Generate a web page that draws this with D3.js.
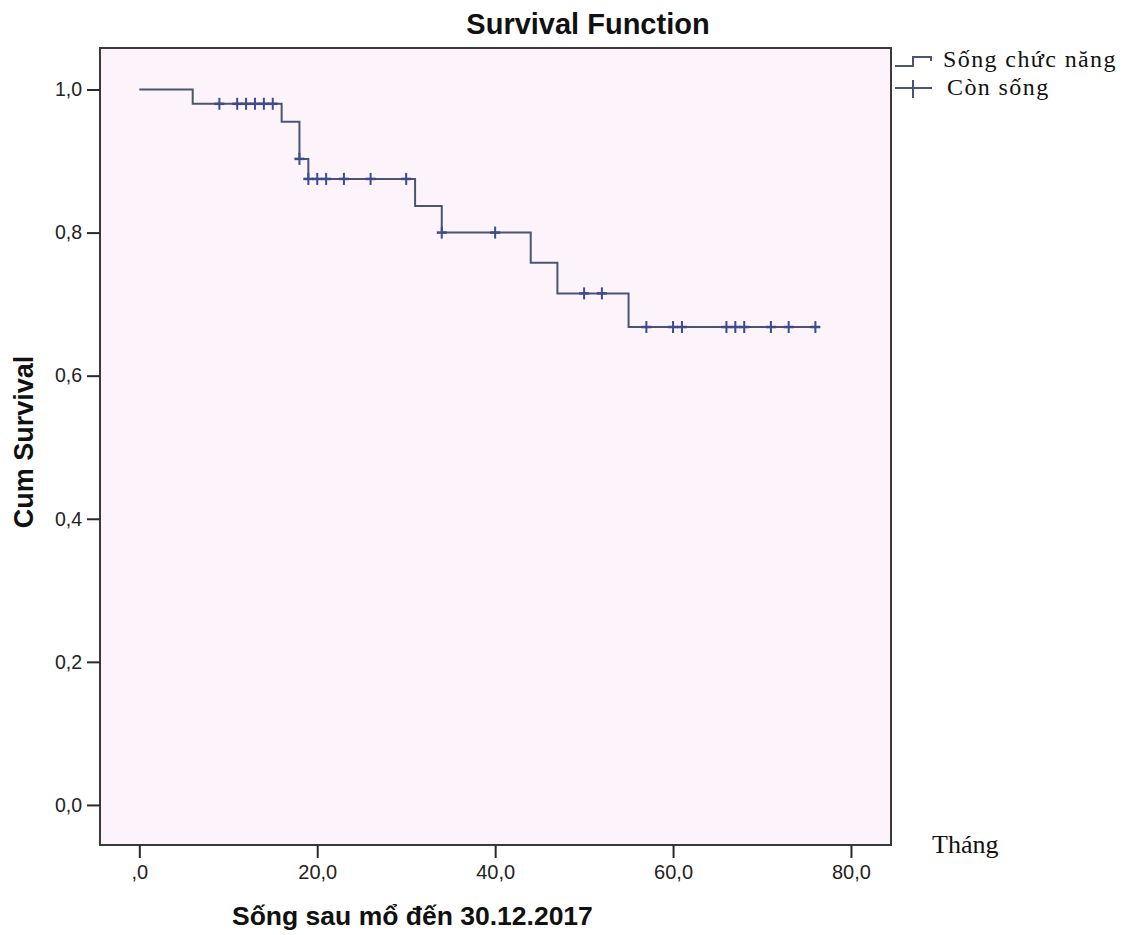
<!DOCTYPE html>
<html>
<head>
<meta charset="utf-8">
<script src="https://cdn.jsdelivr.net/npm/d3@7"></script>
<style>
  html, body { margin: 0; padding: 0; background: #ffffff; }
  svg { display: block; }
</style>
</head>
<body>
<svg id="chart" width="1130" height="935"></svg>
<script>
// Kaplan–Meier estimate: event times (months) and the survival level reached at each
const stepTimes    = [0, 6, 16, 18, 19, 31, 34, 44, 47, 55];
const stepSurvival = [1.0, 0.98, 0.955, 0.903, 0.875, 0.837, 0.80, 0.758, 0.715, 0.668];
// Follow-up end of the curve (last censored patient)
const lastFollowUp = 76;
// Censored observations (still alive), in months
const censorTimes = [9, 11, 12, 13, 14, 15, 18, 19, 20, 21, 23, 26, 30, 34, 40, 50, 52, 57, 60, 61, 66, 67, 68, 71, 73, 76];

// Axis ticks and their labels
const xTickValues = [0, 20, 40, 60, 80];
const xTickLabels = [",0", "20,0", "40,0", "60,0", "80,0"];
const yTickValues = [0, 0.2, 0.4, 0.6, 0.8, 1.0];
const yTickLabels = ["0,0", "0,2", "0,4", "0,6", "0,8", "1,0"];

const legendLabels = ["Sống chức năng", "Còn sống"];

const svg = d3.select("#chart");

const frame = { left: 100, right: 891, top: 48, bottom: 845 };

const x = d3.scaleLinear().domain([-4.42, 84.5]).range([frame.left, frame.right]);
const y = d3.scaleLinear().domain([-0.056, 1.058]).range([frame.bottom, frame.top]);

const lineColor = "#4c5472";
const markColor = "#3b4b8c";

// Plot background
svg.append("rect")
  .attr("x", frame.left).attr("y", frame.top)
  .attr("width", frame.right - frame.left)
  .attr("height", frame.bottom - frame.top)
  .attr("fill", "#fcf3fb");

// Survival step curve
const curvePoints = stepTimes.map((t, i) => [t, stepSurvival[i]]);
curvePoints.push([lastFollowUp, stepSurvival[stepSurvival.length - 1]]);

const stepLine = d3.line()
  .x(d => x(d[0]))
  .y(d => y(d[1]))
  .curve(d3.curveStepAfter);

svg.append("path")
  .datum(curvePoints)
  .attr("d", stepLine)
  .attr("fill", "none")
  .attr("stroke", lineColor)
  .attr("stroke-width", 2);

// Survival value at a given time (value after any event at that time)
function survivalAt(t) {
  let s = stepSurvival[0];
  for (let i = 0; i < stepTimes.length; i++) {
    if (stepTimes[i] <= t) s = stepSurvival[i];
  }
  return s;
}

// Censor marks
const marks = svg.append("g").attr("class", "censors");
censorTimes.forEach(t => {
  const cx = x(t), cy = y(survivalAt(t));
  marks.append("line")
    .attr("x1", cx - 5).attr("x2", cx + 5)
    .attr("y1", cy).attr("y2", cy)
    .attr("stroke", markColor).attr("stroke-width", 2.5);
  marks.append("line")
    .attr("x1", cx).attr("x2", cx)
    .attr("y1", cy - 6).attr("y2", cy + 6)
    .attr("stroke", markColor).attr("stroke-width", 2);
});

// Frame
svg.append("rect")
  .attr("x", frame.left).attr("y", frame.top)
  .attr("width", frame.right - frame.left)
  .attr("height", frame.bottom - frame.top)
  .attr("fill", "none")
  .attr("stroke", "#3a3a3a")
  .attr("stroke-width", 2);

// Axes
const xAxis = d3.axisBottom(x)
  .tickValues(xTickValues)
  .tickFormat((d, i) => xTickLabels[i])
  .tickSize(13)
  .tickPadding(7)
  .tickSizeOuter(0);

const yAxis = d3.axisLeft(y)
  .tickValues(yTickValues)
  .tickFormat((d, i) => yTickLabels[i])
  .tickSize(13)
  .tickPadding(5)
  .tickSizeOuter(0);

const gx = svg.append("g")
  .attr("transform", `translate(0,${frame.bottom})`)
  .call(xAxis);
const gy = svg.append("g")
  .attr("transform", `translate(${frame.left},0)`)
  .call(yAxis);

[gx, gy].forEach((g, k) => {
  g.select(".domain").remove();
  g.selectAll(".tick line").attr("stroke", "#2a2a2a").attr("stroke-width", 2);
  g.selectAll(".tick text")
    .attr("fill", "#222")
    .style("font-family", "'Liberation Sans', Arial, sans-serif")
    .style("font-size", k === 0 ? "20px" : "19.5px");
});

// Title
svg.append("text")
  .attr("x", 588).attr("y", 34)
  .attr("text-anchor", "middle")
  .style("font-family", "'Liberation Sans', Arial, sans-serif")
  .style("font-weight", "bold")
  .style("font-size", "29px")
  .attr("fill", "#111")
  .text("Survival Function");

// Axis titles
svg.append("text")
  .attr("transform", "translate(33,442) rotate(-90)")
  .attr("text-anchor", "middle")
  .style("font-family", "'Liberation Sans', Arial, sans-serif")
  .style("font-weight", "bold")
  .style("font-size", "27px")
  .attr("fill", "#111")
  .text("Cum Survival");

svg.append("text")
  .attr("x", 232).attr("y", 925)
  .style("font-family", "'Liberation Sans', Arial, sans-serif")
  .style("font-weight", "bold")
  .style("font-size", "26.5px")
  .attr("fill", "#111")
  .text("Sống sau mổ đến 30.12.2017");

svg.append("text")
  .attr("x", 932).attr("y", 853)
  .style("font-family", "'Liberation Serif', 'Times New Roman', serif")
  .style("font-size", "26px")
  .attr("fill", "#111")
  .text("Tháng");

// Legend
const legend = svg.append("g").attr("class", "legend");
legend.append("path")
  .attr("d", "M895,66 H913 V57 H931 V61")
  .attr("fill", "none")
  .attr("stroke", lineColor)
  .attr("stroke-width", 2);
legend.append("line")
  .attr("x1", 895).attr("x2", 932).attr("y1", 88).attr("y2", 88)
  .attr("stroke", lineColor).attr("stroke-width", 2);
legend.append("line")
  .attr("x1", 913).attr("x2", 913).attr("y1", 80).attr("y2", 98)
  .attr("stroke", lineColor).attr("stroke-width", 2);

legend.selectAll("text.lbl")
  .data(legendLabels)
  .enter().append("text")
  .attr("class", "lbl")
  .attr("x", (d, i) => i === 0 ? 943 : 947)
  .attr("y", (d, i) => i === 0 ? 67 : 95)
  .style("font-family", "'Liberation Serif', 'Times New Roman', serif")
  .style("font-size", "24px")
  .style("letter-spacing", "1.4px")
  .attr("fill", "#111")
  .text(d => d);
</script>
</body>
</html>
